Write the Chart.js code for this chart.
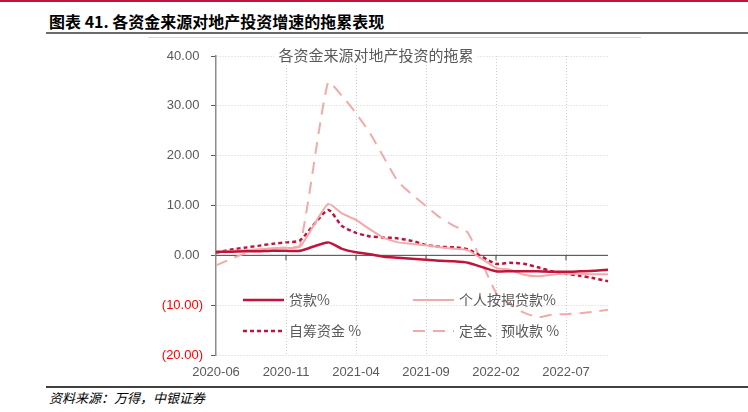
<!DOCTYPE html>
<html>
<head>
<meta charset="utf-8">
<script src="https://cdn.jsdelivr.net/npm/chart.js@4.4.0/dist/chart.umd.min.js"></script>
<style>
  body { margin: 0; width: 748px; height: 412px; overflow: hidden; background: #fff; position: relative; font-family: "Noto Sans CJK SC", sans-serif; }
  #topbar { position: absolute; left: 0; top: 0; width: 748px; height: 2px; background: #c0143c; }
  #head { position: absolute; left: 49px; top: 11px; font-size: 16px; line-height: 20px; font-weight: bold; color: #000; }
  #hline { position: absolute; left: 46px; top: 32px; width: 702px; height: 2px; background: #6b6b6b; }
  #cline { position: absolute; left: 148px; top: 37px; width: 493px; height: 1px; background: #d9d9d9; }
  #fline { position: absolute; left: 46px; top: 386px; width: 702px; height: 2px; background: #404040; }
  #src { position: absolute; left: 49px; top: 390px; font-size: 13px; line-height: 16px; font-style: italic; color: #000; }
  #wrap { position: absolute; left: 0; top: 0; width: 748px; height: 412px; }
</style>
</head>
<body>
<div id="topbar"></div>
<div id="head">图表 41. 各资金来源对地产投资增速的拖累表现</div>
<div id="hline"></div>
<div id="cline"></div>
<div id="fline"></div>
<div id="src">资料来源：万得，中银证券</div>
<div id="wrap"><canvas id="chart"></canvas></div>
<script>
// months (no January figure, Jan-Feb is reported together)
const months = [
  "2020-06", "2020-07", "2020-08", "2020-09", "2020-10", "2020-11", "2020-12",
  "2021-01", "2021-02", "2021-03", "2021-04", "2021-05", "2021-06", "2021-07",
  "2021-08", "2021-09", "2021-10", "2021-11", "2021-12", "2022-01", "2022-02",
  "2022-03", "2022-04", "2022-05", "2022-06", "2022-07", "2022-08", "2022-09",
  "2022-10"
];
const loan = [0.7, 0.7, 0.8, 0.8, 0.9, 0.9, 0.9, null, 2.6, 1.3, 0.6, 0.2, -0.3, -0.5, -0.7, -0.9, -1.1, -1.2, -1.5, null, -3.2, -3.2, -3.2, -3.2, -3.3, -3.3, -3.2, -3.1, -2.9];
const mortgage = [0.6, 0.8, 1.0, 1.2, 1.4, 1.5, 1.7, null, 10.3, 8.4, 7.1, 5.2, 3.5, 2.6, 2.3, 2.0, 1.6, 1.3, 1.0, null, -2.5, -2.9, -3.9, -4.2, -3.9, -3.7, -3.7, -3.8, -3.8];
const selfRaised = [0.5, 1.1, 1.5, 1.9, 2.3, 2.6, 3.0, null, 9.1, 5.9, 4.5, 3.8, 3.6, 3.4, 2.9, 2.1, 1.7, 1.6, 1.2, null, -1.7, -1.5, -1.7, -2.4, -3.2, -3.7, -4.1, -4.6, -5.2];
const deposit = [-2.0, -0.8, 0.3, 0.9, 1.3, 1.6, 2.0, null, 34.7, 32.0, 28.5, 24.5, 19.6, 14.8, 12.2, 9.9, 7.6, 5.9, 4.5, null, -7.5, -9.8, -11.5, -12.4, -11.9, -11.8, -11.6, -11.3, -10.9];
const seriesNames = ["贷款%", "个人按揭贷款%", "自筹资金 %", "定金、预收款 %"];
const yTicks = [40, 30, 20, 10, 0, -10, -20];

const darkRed = "#c0143c";
const lightPink = "#f2aaa8";
const grey = "#595959";

// title with white box over the top grid line
const titlePlugin = {
  id: "innerTitle",
  afterDraw(chart) {
    const ctx = chart.ctx;
    ctx.save();
    ctx.font = '15px "Noto Sans CJK SC"';
    const txt = "各资金来源对地产投资的拖累";
    const w = ctx.measureText(txt).width;
    ctx.fillStyle = "#fff";
    ctx.fillRect(376 - w / 2 - 4, 46, w + 8, 18);
    ctx.fillStyle = grey;
    ctx.textAlign = "center";
    ctx.textBaseline = "middle";
    ctx.fillText(txt, 376, 55);
    ctx.restore();
  }
};

// zero line and small ticks under it
const zeroPlugin = {
  id: "zeroLine",
  beforeDatasetsDraw(chart) {
    const ctx = chart.ctx;
    const y0 = chart.scales.y.getPixelForValue(0);
    const area = chart.chartArea;
    ctx.save();
    ctx.strokeStyle = "#404040";
    ctx.lineWidth = 1;
    ctx.beginPath();
    ctx.moveTo(area.left, y0);
    ctx.lineTo(area.right, y0);
    for (let i = 5; i < months.length; i += 5) {
      const x = chart.scales.x.getPixelForValue(i);
      ctx.moveTo(x, y0);
      ctx.lineTo(x, y0 + 5);
    }
    ctx.stroke();
    ctx.restore();
  }
};

// legend sitting inside the plot
const legendPlugin = {
  id: "innerLegend",
  afterDatasetsDraw(chart) {
    const ctx = chart.ctx;
    const spots = [[243, 300], [413, 300], [243, 331], [413, 331]];
    ctx.save();
    chart.data.datasets.forEach((ds, i) => {
      const [x, y] = spots[i];
      ctx.strokeStyle = ds.borderColor;
      ctx.lineWidth = ds.borderWidth;
      ctx.setLineDash(ds.borderDash || []);
      ctx.beginPath();
      ctx.moveTo(x, y);
      ctx.lineTo(x + 41, y);
      ctx.stroke();
      ctx.setLineDash([]);
      ctx.fillStyle = grey;
      ctx.font = '14px "Noto Sans CJK SC"';
      ctx.textBaseline = "middle";
      ctx.fillText(ds.label, x + 46, y);
    });
    ctx.restore();
  }
};

new Chart(document.getElementById("chart"), {
  type: "line",
  data: {
    labels: months,
    datasets: [
      { label: seriesNames[0], data: loan, borderColor: darkRed, borderWidth: 2.5 },
      { label: seriesNames[1], data: mortgage, borderColor: lightPink, borderWidth: 2 },
      { label: seriesNames[2], data: selfRaised, borderColor: darkRed, borderWidth: 2.5, borderDash: [4, 3] },
      { label: seriesNames[3], data: deposit, borderColor: lightPink, borderWidth: 2, borderDash: [12, 8] }
    ]
  },
  options: {
    responsive: true,
    maintainAspectRatio: false,
    animation: false,
    spanGaps: true,
    layout: { padding: { left: 140, right: 140, top: 56, bottom: 27 } },
    elements: {
      point: { radius: 0 },
      line: { tension: 0.2, fill: false }
    },
    plugins: {
      legend: { display: false },
      title: { display: false },
      tooltip: { enabled: false }
    },
    scales: {
      x: {
        afterFit: (scale) => { scale.height = 30; },
        border: { display: false, dash: [1, 2] },
        grid: {
          drawTicks: false,
          color: (c) => (c.index > 0 && c.index % 5 === 0 ? "#d0d0d0" : "rgba(0,0,0,0)")
        },
        ticks: {
          autoSkip: false,
          maxRotation: 0,
          padding: 10,
          color: grey,
          font: { family: "Liberation Sans", size: 13 },
          callback: (v, i) => (i % 5 === 0 ? months[i] : "")
        }
      },
      y: {
        min: -20,
        max: 40,
        afterFit: (scale) => { scale.width = 76; },
        afterBuildTicks: (scale) => { scale.ticks = yTicks.map((v) => ({ value: v })); },
        border: { display: true, color: "#8c8c8c", width: 1.5, dash: [1, 2] },
        grid: {
          color: (c) => (c.tick && c.tick.value === 0 ? "rgba(0,0,0,0)" : "#d0d0d0"),
          tickLength: 5,
          tickColor: "#595959",
          tickBorderDash: []
        },
        ticks: {
          padding: 8,
          color: (c) => (c.tick && c.tick.value < 0 ? "#ff0000" : grey),
          font: { family: "Liberation Sans", size: 13 },
          // positive numbers keep room for the ")" like the accounting format
          callback: (v) => (v < 0 ? "(" + Math.abs(v).toFixed(2) + ")" : v.toFixed(2) + " ")
        }
      }
    }
  },
  plugins: [zeroPlugin, legendPlugin, titlePlugin]
});
</script>
</body>
</html>
